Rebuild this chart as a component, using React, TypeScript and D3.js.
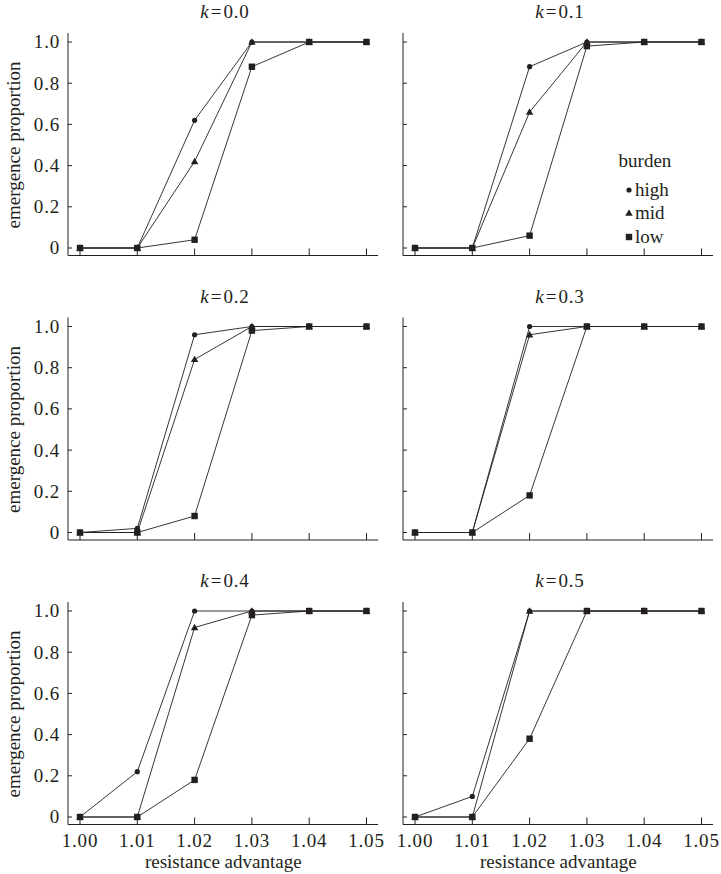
import React from "react";
import * as d3 from "d3";

const resistanceAdvantage = [1.0, 1.01, 1.02, 1.03, 1.04, 1.05];
const kValues = ["0.0", "0.1", "0.2", "0.3", "0.4", "0.5"];
const burdenLevels = ["high", "mid", "low"];
const yTicks = [0, 0.2, 0.4, 0.6, 0.8, 1.0];

const highByK = [
  [0, 0, 0.62, 1, 1, 1],
  [0, 0, 0.88, 1, 1, 1],
  [0, 0.02, 0.96, 1, 1, 1],
  [0, 0, 1, 1, 1, 1],
  [0, 0.22, 1, 1, 1, 1],
  [0, 0.1, 1, 1, 1, 1],
];
const midByK = [
  [0, 0, 0.42, 1, 1, 1],
  [0, 0, 0.66, 1, 1, 1],
  [0, 0, 0.84, 1, 1, 1],
  [0, 0, 0.96, 1, 1, 1],
  [0, 0, 0.92, 1, 1, 1],
  [0, 0, 1, 1, 1, 1],
];
const lowByK = [
  [0, 0, 0.04, 0.88, 1, 1],
  [0, 0, 0.06, 0.98, 1, 1],
  [0, 0, 0.08, 0.98, 1, 1],
  [0, 0, 0.18, 1, 1, 1],
  [0, 0, 0.18, 0.98, 1, 1],
  [0, 0, 0.38, 1, 1, 1],
];

const INK = "#231f20";
const FS = 19;

function Marker({ kind, x, y }: { kind: string; x: number; y: number }) {
  if (kind === "high") return <circle cx={x} cy={y} r={2.6} fill={INK} />;
  if (kind === "mid") {
    const s = d3.symbol().type(d3.symbolTriangle).size(24)()!;
    return <path d={s} transform={`translate(${x},${y + 0.5})`} fill={INK} />;
  }
  return <rect x={x - 3.2} y={y - 3.2} width={6.4} height={6.4} fill={INK} />;
}

function Panel({ idx }: { idx: number }) {
  const col = idx % 2;
  const row = Math.floor(idx / 2);
  const axisX = 68 + col * 335;
  const y1 = 42 + row * 284.5;
  const y0 = y1 + 206;
  const axisY = y0 + 7.5;
  const x = d3.scaleLinear().domain([1.0, 1.05]).range([axisX + 12, axisX + 298.5]);
  const y = d3.scaleLinear().domain([0, 1]).range([y0, y1]);
  const line = d3
    .line<number>()
    .x((_, i) => x(resistanceAdvantage[i]))
    .y((d) => y(d));
  const series: [string, number[]][] = [
    ["high", highByK[idx]],
    ["mid", midByK[idx]],
    ["low", lowByK[idx]],
  ];
  const drawOrder = ["high", "low", "mid"];
  const centerX = axisX + 157;
  return (
    <g>
      <text x={centerX} y={y1 - 24} textAnchor="middle" fontSize={FS} fill={INK}>
        <tspan fontStyle="italic">k</tspan>
        <tspan dx={2}>=</tspan>
        <tspan dx={2} letterSpacing={0.8}>{kValues[idx]}</tspan>
      </text>
      <line x1={axisX} x2={axisX} y1={y1 - 9} y2={axisY} stroke={INK} strokeWidth={1} />
      <line x1={axisX} x2={axisX + 310} y1={axisY} y2={axisY} stroke={INK} strokeWidth={1} />
      {yTicks.map((t) => (
        <line key={t} x1={axisX} x2={axisX + 4} y1={y(t)} y2={y(t)} stroke={INK} />
      ))}
      {resistanceAdvantage.map((t) => (
        <line key={t} x1={x(t)} x2={x(t)} y1={axisY} y2={axisY - 7} stroke={INK} />
      ))}
      {col === 0 &&
        yTicks.map((t) => (
          <text
            key={t}
            x={axisX - 8}
            y={y(t)}
            dy="0.34em"
            textAnchor="end"
            fontSize={FS}
            letterSpacing={0.8}
            fill={INK}
          >
            {t === 0 ? "0" : d3.format(".1f")(t)}
          </text>
        ))}
      {col === 0 && (
        <text
          transform={`translate(${axisX - 54},${(y0 + y1) / 2}) rotate(-90)`}
          textAnchor="middle"
          dy="0.34em"
          fontSize={FS}
          fill={INK}
        >
          emergence proportion
        </text>
      )}
      {row === 2 &&
        resistanceAdvantage.map((t) => (
          <text
            key={t}
            x={x(t)}
            y={axisY + 22}
            textAnchor="middle"
            fontSize={FS}
            letterSpacing={0.8}
            fill={INK}
          >
            {d3.format(".2f")(t)}
          </text>
        ))}
      {row === 2 && (
        <text
          x={(x(1.0) + x(1.05)) / 2}
          y={axisY + 43}
          textAnchor="middle"
          fontSize={FS}
          fill={INK}
        >
          resistance advantage
        </text>
      )}
      {series.map(([name, vals]) => (
        <path key={name} d={line(vals)!} fill="none" stroke={INK} strokeWidth={0.9} />
      ))}
      {drawOrder.map((name) => {
        const vals = series.find((s) => s[0] === name)![1];
        return vals.map((v, i) => (
          <Marker key={name + i} kind={name} x={x(resistanceAdvantage[i])} y={y(v)} />
        ));
      })}
    </g>
  );
}

function Legend() {
  const lx = 629;
  const rows = [190, 213, 237];
  return (
    <g fill={INK}>
      <text x={645} y={167} textAnchor="middle" fontSize={FS}>
        burden
      </text>
      {burdenLevels.map((b, i) => (
        <g key={b}>
          <Marker kind={b} x={lx} y={rows[i]} />
          <text x={lx + 6} y={rows[i]} dy="0.34em" fontSize={FS} fill={INK}>
            {b}
          </text>
        </g>
      ))}
    </g>
  );
}

export default function App() {
  return (
    <svg
      width={721}
      height={874}
      style={{
        position: "absolute",
        left: 0,
        top: 0,
        background: "#fff",
        fontFamily: '"Liberation Serif", serif',
      }}
    >
      <rect width={721} height={874} fill="#fff" />
      {kValues.map((_, i) => (
        <Panel key={i} idx={i} />
      ))}
      <Legend />
    </svg>
  );
}
